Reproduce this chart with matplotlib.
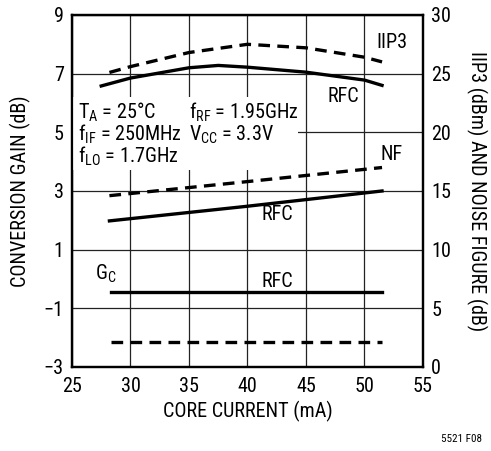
import matplotlib
matplotlib.use("Agg")
from matplotlib import pyplot as plt
from matplotlib.patches import Rectangle

plt.rcParams['font.family'] = ['Roboto Condensed', 'Liberation Sans Narrow', 'Liberation Sans', 'DejaVu Sans']
plt.rcParams['font.size'] = 14.5

# gain curves (left axis, dB)
gain_x = [27.5, 30, 35, 37.5, 40, 45, 50, 51.5]
gain_rfc = [6.58, 6.85, 7.2, 7.28, 7.22, 7.05, 6.78, 6.6]
gc_x = [28.3, 51.5]
gc_rfc = [-0.45, -0.45]
gc_dash = [-2.15, -2.15]

# right axis curves (dBm / dB)
iip3_x = [28.2, 30, 35, 40, 45, 50, 51.5]
iip3 = [25.1, 25.6, 26.8, 27.5, 27.2, 26.4, 26.0]
nf_x = [28.2, 40, 51.5]
nf_dash = [14.6, 15.8, 17.0]
nf_rfc = [12.45, 13.7, 15.0]

fig = plt.figure(figsize=(4.91, 4.51), dpi=100)
ax = fig.add_axes([0.1466, 0.1863, 0.7149, 0.7805])
ax2 = ax.twinx()

ax.set_xlim(25, 55)
ax.set_ylim(-3, 9)
ax2.set_ylim(0, 30)
ax.set_xticks([25, 30, 35, 40, 45, 50, 55])
ax.set_yticks([-3, -1, 1, 3, 5, 7, 9])
ax.set_yticklabels(['\u22123', '\u22121', '1', '3', '5', '7', '9'])
ax2.set_yticks([0, 5, 10, 15, 20, 25, 30])
ax.grid(True, color='#222222', lw=0.9)
ax.tick_params(length=0, pad=6)
ax.tick_params(axis='x', pad=7)
ax2.tick_params(length=0, pad=6)
for a in (ax, ax2):
    for s in a.spines.values():
        s.set_linewidth(1.6)

# white area behind the test conditions
ax.add_patch(Rectangle((25.05, 3.72), 19.25, 2.48, facecolor='white',
                       edgecolor='none', zorder=2.6))

lw = 2.4
dash = (3.5, 2.2)
ax.plot(gain_x, gain_rfc, color='black', lw=lw, zorder=3)
ax.plot(gc_x, gc_rfc, color='black', lw=lw, zorder=3)
ax.plot(gc_x, gc_dash, color='black', lw=lw, dashes=dash, zorder=3)
ax2.plot(iip3_x, iip3, color='black', lw=lw, dashes=dash)
ax2.plot(nf_x, nf_dash, color='black', lw=lw, dashes=dash)
ax2.plot(nf_x, nf_rfc, color='black', lw=lw)

ax.set_xlabel('CORE CURRENT (mA)', labelpad=4)
ax.set_ylabel('CONVERSION GAIN (dB)', labelpad=9)
ax2.set_ylabel('IIP3 (dBm) AND NOISE FIGURE (dB)', rotation=-90, labelpad=26)

def txt(x, y, s):
    ax.text(x, y, s, zorder=4, va='baseline', ha='left')

txt(25.5, 5.46, r'T$_\mathregular{A}$ = 25°C')
txt(25.5, 4.73, r'f$_\mathregular{IF}$ = 250MHz')
txt(25.5, 3.96, r'f$_\mathregular{LO}$ = 1.7GHz')
txt(35.0, 5.46, r'f$_\mathregular{RF}$ = 1.95GHz')
txt(35.0, 4.73, r'V$_\mathregular{CC}$ = 3.3V')
txt(51.0, 7.87, 'IIP3')
txt(46.8, 6.03, 'RFC')
txt(51.4, 4.06, 'NF')
txt(41.2, 2.01, 'RFC')
txt(41.2, -0.27, 'RFC')
txt(27.0, -0.03, r'G$_\mathregular{C}$')

fig.text(0.982, 0.015, '5521 F08', fontsize=8, ha='right', va='bottom')

fig.savefig('out.png', dpi=100)
